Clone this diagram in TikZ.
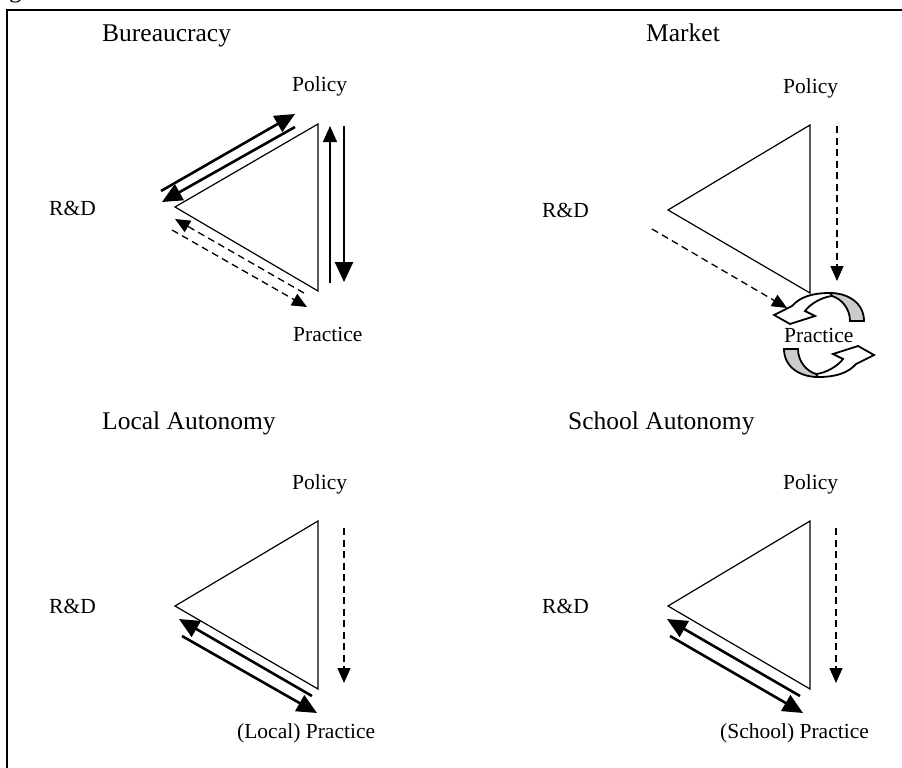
\documentclass[tikz,border=0pt]{standalone}
\usepackage{fontspec}
\setmainfont{Liberation Serif}
\usetikzlibrary{arrows.meta}
\tikzset{
  tri/.style={line width=1.2pt, line join=miter},
  thickarr/.style={line width=2.6pt, -{Triangle[length=20pt,width=18pt]}},
  thinarr/.style={line width=1.3pt, -{Triangle[length=16pt,width=14pt]}},
  dasharr/.style={line width=1.3pt, dash pattern=on 7pt off 4.5pt, -{Triangle[length=15pt,width=13pt]}},
  title/.style={font=\fontsize{25.5}{28}\selectfont, anchor=base west, inner sep=0pt},
  lab/.style={font=\fontsize{21.5}{24}\selectfont, anchor=base west, inner sep=0pt},
  ribbon/.style={line width=1.8pt, line join=miter},
  pics/cyclearrow/.style={code={
    \fill[white] (-32,-29) .. controls (-24,-38) and (-12,-42) .. (6,-42)
       .. controls (24,-42) and (40,-32) .. (40,-14) -- (26,-14)
       .. controls (26,-26) and (18,-36) .. (8,-39)
       .. controls (-2,-38) and (-14,-31) .. (-19,-24)
       -- (-9,-19) -- (-34,-11) -- (-50,-20) -- cycle;
    \fill[black!20] (6,-42) .. controls (24,-42) and (40,-32) .. (40,-14) -- (26,-14)
       .. controls (26,-26) and (18,-36) .. (8,-39) -- cycle;
    \draw[ribbon] (-32,-29) .. controls (-24,-38) and (-12,-42) .. (6,-42)
       .. controls (24,-42) and (40,-32) .. (40,-14) -- (26,-14)
       .. controls (26,-26) and (18,-36) .. (8,-39)
       .. controls (-2,-38) and (-14,-31) .. (-19,-24)
       -- (-9,-19) -- (-34,-11) -- (-50,-20) -- cycle;
    \draw[ribbon] (6,-42) -- (8,-39);
  }}
}
\begin{document}
\begin{tikzpicture}[x=1pt,y=-1pt]
\useasboundingbox (0,0) rectangle (902,768);
% frame
\begin{scope}
  \clip (0,0) rectangle (902,768);
  \node[title] (gfrag) at (9,-2.5) {g};
\end{scope}
\draw[line width=1.5pt] (7,768) -- (7,10) -- (902,10);

% ---------- Bureaucracy ----------
\node[title] (btitle) at (102,42) {Bureaucracy};
\node[lab] (bpol) at (292,92) {Policy};
\node[lab] (brd) at (49,215) {R\&D};
\node[lab] (bprac) at (293,341) {Practice};
\coordinate (bT) at (318,124);
\coordinate (bL) at (175,207);
\coordinate (bB) at (318,291);
\draw[tri] (bT) -- (bL) -- (bB) -- cycle;
\coordinate (b1s) at (161,191); \coordinate (b1e) at (295,114);
\coordinate (b2s) at (295,127); \coordinate (b2e) at (162,202);
\coordinate (b3s) at (330,283); \coordinate (b3e) at (330,126);
\coordinate (b4s) at (344,126); \coordinate (b4e) at (344,282);
\coordinate (b5s) at (304,293); \coordinate (b5e) at (175,219);
\coordinate (b6s) at (172,230); \coordinate (b6e) at (307,307);
\draw[thickarr] (b1s) -- (b1e);
\draw[thickarr] (b2s) -- (b2e);
\draw[thinarr] (b3s) -- (b3e);
\draw[thickarr] (b4s) -- (b4e);
\draw[dasharr] (b5s) -- (b5e);
\draw[dasharr] (b6s) -- (b6e);

% ---------- Market ----------
\node[title] (mtitle) at (646,42) {Market};
\node[lab] (mpol) at (783,93) {Policy};
\node[lab] (mrd) at (542,217) {R\&D};
\coordinate (mT) at (810,125);
\coordinate (mL) at (668,210);
\coordinate (mB) at (810,293);
\draw[tri] (mT) -- (mL) -- (mB) -- cycle;
\pic at (824,335) {cyclearrow};
\pic[rotate=180] at (824,335) {cyclearrow};
\node[lab] (mprac) at (784,342) {Practice};
\coordinate (m1s) at (837,126); \coordinate (m1e) at (837,281);
\coordinate (m2s) at (652,229); \coordinate (m2e) at (787,308);
\draw[dasharr] (m1s) -- (m1e);
\draw[dasharr] (m2s) -- (m2e);

% ---------- Local Autonomy ----------
\node[title] (ltitle) at (102,429) {Local Autonomy};
\node[lab] (lpol) at (292,489) {Policy};
\node[lab] (lrd) at (49,613) {R\&D};
\node[lab] (lprac) at (237,738) {(Local) Practice};
\coordinate (lT) at (318,521);
\coordinate (lL) at (175,606);
\coordinate (lB) at (318,689);
\draw[tri] (lT) -- (lL) -- (lB) -- cycle;
\coordinate (l1s) at (344,528); \coordinate (l1e) at (344,683);
\coordinate (l2s) at (312,696); \coordinate (l2e) at (179,619);
\coordinate (l3s) at (182,636); \coordinate (l3e) at (317,713);
\draw[dasharr] (l1s) -- (l1e);
\draw[thickarr] (l2s) -- (l2e);
\draw[thickarr] (l3s) -- (l3e);

% ---------- School Autonomy ----------
\node[title] (stitle) at (568,429) {School Autonomy};
\node[lab] (spol) at (783,489) {Policy};
\node[lab] (srd) at (542,613) {R\&D};
\node[lab] (sprac) at (720,738) {(School) Practice};
\coordinate (sT) at (810,521);
\coordinate (sL) at (668,606);
\coordinate (sB) at (810,689);
\draw[tri] (sT) -- (sL) -- (sB) -- cycle;
\coordinate (s1s) at (836,528); \coordinate (s1e) at (836,683);
\coordinate (s2s) at (800,696); \coordinate (s2e) at (667,619);
\coordinate (s3s) at (670,636); \coordinate (s3e) at (803,713);
\draw[dasharr] (s1s) -- (s1e);
\draw[thickarr] (s2s) -- (s2e);
\draw[thickarr] (s3s) -- (s3e);
\end{tikzpicture}
\end{document}
